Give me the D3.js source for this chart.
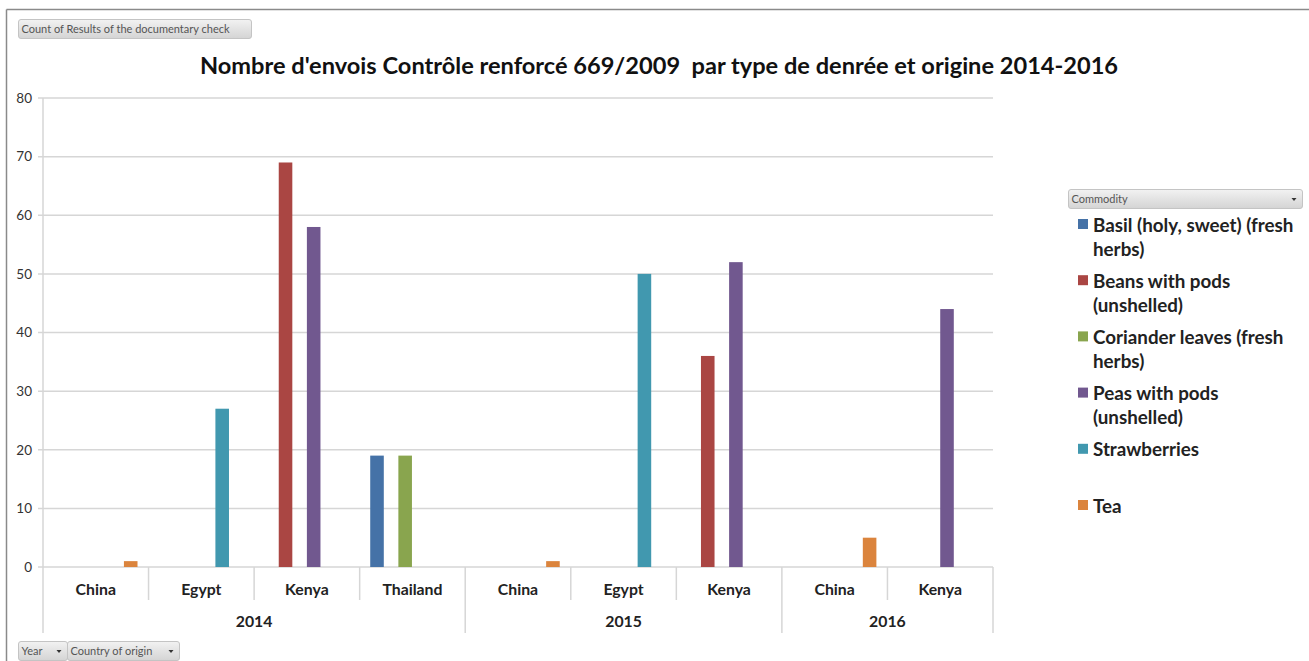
<!DOCTYPE html>
<html>
<head>
<meta charset="utf-8">
<script src="https://cdn.jsdelivr.net/npm/d3@7"></script>
<style>
  html, body { margin: 0; padding: 0; background: #fff; }
  svg { display: block; }
  text { font-family: Lato, "Open Sans", sans-serif; }
</style>
</head>
<body>
<svg id="chart" width="1309" height="661"></svg>
<script>
// Pivot chart: shipments under reinforced control (Reg. 669/2009)
const title = "Nombre d'envois Contrôle renforcé 669/2009  par type de denrée et origine 2014-2016";
const years = ["2014", "2014", "2014", "2014", "2015", "2015", "2015", "2016", "2016"];
const countries = ["China", "Egypt", "Kenya", "Thailand", "China", "Egypt", "Kenya", "China", "Kenya"];

const commodities = [
  "Basil (holy, sweet) (fresh herbs)",
  "Beans with pods (unshelled)",
  "Coriander leaves (fresh herbs)",
  "Peas with pods (unshelled)",
  "Strawberries",
  "Tea"
];
const basil        = [null, null, null, 19, null, null, null, null, null];
const beans        = [null, null, 69, null, null, null, 36, null, null];
const coriander    = [null, null, null, 19, null, null, null, null, null];
const peas         = [null, null, 58, null, null, null, 52, null, 44];
const strawberries = [null, 27, null, null, null, 50, null, null, null];
const tea          = [1, null, null, null, 1, null, null, 5, null];
const seriesValues = [basil, beans, coriander, peas, strawberries, tea];
const colors = ["#4572A7", "#AA4643", "#89A54E", "#71588F", "#4198AF", "#DB843D"];
const yTicks = [0, 10, 20, 30, 40, 50, 60, 70, 80];

const svg = d3.select("#chart");

// chart frame
svg.append("line").attr("x1", 6.5).attr("x2", 1309).attr("y1", 9.5).attr("y2", 9.5)
  .attr("stroke", "#8a8a8a").attr("stroke-width", 1.5);
svg.append("line").attr("x1", 6.5).attr("x2", 6.5).attr("y1", 9.5).attr("y2", 661)
  .attr("stroke", "#8a8a8a").attr("stroke-width", 1.5);

// gradient for pivot field buttons
const defs = svg.append("defs");
const grad = defs.append("linearGradient").attr("id", "btn").attr("x1", 0).attr("x2", 0).attr("y1", 0).attr("y2", 1);
grad.append("stop").attr("offset", "0%").attr("stop-color", "#f2f2f2");
grad.append("stop").attr("offset", "100%").attr("stop-color", "#d4d4d4");

function fieldButton(x, y, w, label, arrow) {
  const g = svg.append("g").attr("transform", `translate(${x},${y})`);
  g.append("rect").attr("width", w).attr("height", 19).attr("rx", 2.5)
    .attr("fill", "url(#btn)").attr("stroke", "#c4c4c4");
  g.append("text").attr("x", 3).attr("y", 13.5).attr("font-size", 11)
    .attr("fill", "#555").text(label);
  if (arrow) {
    g.append("path").attr("d", `M${w - 11},8.5 l5,0 l-2.5,3 z`).attr("fill", "#333");
  }
}
fieldButton(18.5, 19.5, 233, "Count of Results of the documentary check", false);
fieldButton(1068.5, 189.5, 234, "Commodity", true);
fieldButton(18.5, 641.5, 49, "Year", true);
fieldButton(67.5, 641.5, 112, "Country of origin", true);

// title
svg.append("text").attr("x", 659).attr("y", 74).attr("text-anchor", "middle")
  .attr("font-size", 23.6).attr("font-weight", "bold").attr("fill", "#111")
  .attr("xml:space", "preserve").style("white-space", "pre").text(title);

// scales
const plotLeft = 43, plotRight = 993, plotTop = 98, plotBottom = 567;
const idx = d3.range(countries.length);
const x = d3.scaleBand().domain(idx).range([plotLeft, plotRight]).paddingInner(0).paddingOuter(0);
const y = d3.scaleLinear().domain([0, 80]).range([plotBottom, plotTop]);
// six bars per category, gap width 150% of one bar
const inner = d3.scaleBand().domain(d3.range(commodities.length))
  .range([0, x.bandwidth()]).paddingOuter(0.75).paddingInner(0);

// gridlines
svg.append("g").selectAll("line").data(yTicks).join("line")
  .attr("x1", plotLeft - 5).attr("x2", plotRight)
  .attr("y1", d => y(d)).attr("y2", d => y(d))
  .attr("stroke", "#d6d6d6").attr("stroke-width", 1.5);

// y axis
const yAxis = svg.append("g").attr("transform", `translate(${plotLeft},0)`)
  .call(d3.axisLeft(y).tickValues(yTicks).tickSize(0).tickPadding(11));
yAxis.select(".domain").remove();
yAxis.selectAll("text").attr("font-size", 13.5).attr("fill", "#333").attr("font-family", "Lato, sans-serif");
svg.append("line").attr("x1", plotLeft).attr("x2", plotLeft).attr("y1", plotTop).attr("y2", 633)
  .attr("stroke", "#d6d6d6").attr("stroke-width", 1.5);

// bars
seriesValues.forEach((vals, s) => {
  svg.append("g").selectAll("rect")
    .data(idx.filter(i => vals[i] != null))
    .join("rect")
    .attr("x", i => x(i) + inner(s))
    .attr("width", inner.bandwidth() - 0.5)
    .attr("y", i => y(vals[i]))
    .attr("height", i => y(0) - y(vals[i]))
    .attr("fill", colors[s]);
});

// category axis: country labels
svg.append("g").selectAll("text").data(idx).join("text")
  .attr("x", i => x(i) + x.bandwidth() / 2).attr("y", 595)
  .attr("text-anchor", "middle").attr("font-size", 15.8).attr("font-weight", "bold")
  .attr("fill", "#222").text(i => countries[i]);

// separators between countries and between years
const boundaries = idx.slice(1);
svg.append("g").selectAll("line").data(boundaries).join("line")
  .attr("x1", i => x(i)).attr("x2", i => x(i))
  .attr("y1", plotBottom)
  .attr("y2", i => years[i] !== years[i - 1] ? 633 : 600)
  .attr("stroke", "#d6d6d6").attr("stroke-width", 1.5);
svg.append("line").attr("x1", plotRight).attr("x2", plotRight).attr("y1", plotBottom).attr("y2", 633)
  .attr("stroke", "#d6d6d6").attr("stroke-width", 1.5);

// year labels
const yearGroups = d3.groups(idx, i => years[i]);
svg.append("g").selectAll("text").data(yearGroups).join("text")
  .attr("x", d => (x(d[1][0]) + x(d[1][d[1].length - 1]) + x.bandwidth()) / 2)
  .attr("y", 627).attr("text-anchor", "middle").attr("font-size", 15.8).attr("font-weight", "bold")
  .attr("fill", "#222").text(d => d[0]);

// legend
const legendFont = 18.8;
const legend = svg.append("g").attr("transform", "translate(1078,0)");
const measure = svg.append("text").attr("font-size", legendFont).attr("font-weight", "bold").attr("visibility", "hidden");
function wrap(label, maxW) {
  const words = label.split(" ");
  const lines = [];
  let cur = "";
  words.forEach(w => {
    const test = cur ? cur + " " + w : w;
    measure.text(test);
    if (cur && measure.node().getComputedTextLength() > maxW) { lines.push(cur); cur = w; }
    else cur = test;
  });
  lines.push(cur);
  return lines;
}
commodities.forEach((name, s) => {
  const top = 225 + s * 56.2;
  legend.append("rect").attr("x", 0).attr("y", top - 6).attr("width", 10).attr("height", 10)
    .attr("fill", colors[s]);
  const t = legend.append("text").attr("x", 15).attr("y", top + 6.5)
    .attr("font-size", legendFont).attr("font-weight", "bold").attr("fill", "#222");
  wrap(name, 212).forEach((ln, k) => {
    t.append("tspan").attr("x", 15).attr("dy", k === 0 ? 0 : 24).text(ln);
  });
});
measure.remove();
</script>
</body>
</html>
